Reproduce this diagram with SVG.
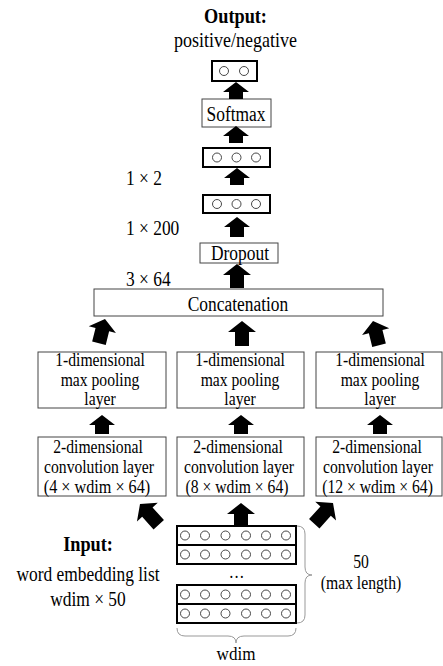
<svg xmlns="http://www.w3.org/2000/svg" width="443" height="666" viewBox="0 0 443 666">
<style>
text{font-family:"Liberation Serif","Times New Roman",serif;fill:#000;text-anchor:middle}
.s{text-anchor:start}
.t20{font-size:20px}
.t18{font-size:18px}
.b{font-size:21px;font-weight:bold}
.box{fill:#fff;stroke:#444;stroke-width:1}
.vec{fill:#fff;stroke:#000;stroke-width:2}
.c{fill:#fff;stroke:#333;stroke-width:0.9}
.arr{fill:#000;stroke:none}
.brace{fill:none;stroke:#999;stroke-width:1}
</style>
<rect width="443" height="666" fill="#fff"/>

<g id="title">
<text class="b" transform="translate(235.5,23) scale(0.87,1)">Output:</text>
<text class="t20" transform="translate(235.5,47) scale(0.9,1)">positive/negative</text>
</g>

<g id="out-vec">
<rect class="vec" x="212" y="61" width="45" height="20"/>
<circle class="c" cx="224" cy="71" r="4.5"/>
<circle class="c" cx="244" cy="71" r="4.5"/>
</g>

<g id="softmax">
<rect class="box" x="202" y="99" width="69" height="28"/>
<text class="t20" transform="translate(236,121) scale(0.87,1)">Softmax</text>
</g>

<g id="vec2">
<rect class="vec" x="203" y="148" width="67" height="19"/>
<circle class="c" cx="217" cy="157.5" r="4.5"/>
<circle class="c" cx="236.5" cy="157.5" r="4.5"/>
<circle class="c" cx="256" cy="157.5" r="4.5"/>
</g>

<g id="vec200">
<rect class="vec" x="203" y="195" width="67" height="18"/>
<circle class="c" cx="217" cy="204" r="4.5"/>
<circle class="c" cx="236.5" cy="204" r="4.5"/>
<circle class="c" cx="256" cy="204" r="4.5"/>
</g>

<g id="dims">
<text class="t20 s" transform="translate(126,185) scale(0.87,1)">1 × 2</text>
<text class="t20 s" transform="translate(126,235) scale(0.87,1)">1 × 200</text>
<text class="t20 s" transform="translate(126,286) scale(0.87,1)">3 × 64</text>
</g>

<g id="dropout">
<rect class="box" x="200" y="243" width="78" height="20"/>
<text class="t20" transform="translate(240,260) scale(0.87,1)">Dropout</text>
</g>

<g id="concat">
<rect class="box" x="94" y="289" width="289" height="27"/>
<text class="t20" transform="translate(238,311) scale(0.87,1)">Concatenation</text>
</g>

<g id="pool1">
<rect class="box" x="38" y="352" width="128" height="56"/>
<text class="t18" transform="translate(100,366) scale(0.87,1)">1-dimensional</text>
<text class="t18" transform="translate(100,386) scale(0.87,1)">max pooling</text>
<text class="t18" transform="translate(100,405) scale(0.87,1)">layer</text>
</g>
<g id="pool2">
<rect class="box" x="177" y="352" width="127" height="56"/>
<text class="t18" transform="translate(240,366) scale(0.87,1)">1-dimensional</text>
<text class="t18" transform="translate(240,386) scale(0.87,1)">max pooling</text>
<text class="t18" transform="translate(240,405) scale(0.87,1)">layer</text>
</g>
<g id="pool3">
<rect class="box" x="316" y="352" width="126" height="56"/>
<text class="t18" transform="translate(380,366) scale(0.87,1)">1-dimensional</text>
<text class="t18" transform="translate(380,386) scale(0.87,1)">max pooling</text>
<text class="t18" transform="translate(380,405) scale(0.87,1)">layer</text>
</g>

<g id="conv1">
<rect class="box" x="38" y="437" width="128" height="59"/>
<text class="t18" transform="translate(98,453) scale(0.87,1)">2-dimensional</text>
<text class="t18" transform="translate(99,473) scale(0.87,1)">convolution layer</text>
<text class="t18" transform="translate(97,493) scale(0.9,1)">(4 × wdim × 64)</text>
</g>
<g id="conv2">
<rect class="box" x="177" y="437" width="127" height="59"/>
<text class="t18" transform="translate(238,453) scale(0.87,1)">2-dimensional</text>
<text class="t18" transform="translate(239,473) scale(0.87,1)">convolution layer</text>
<text class="t18" transform="translate(237,493) scale(0.87,1)">(8 × wdim × 64)</text>
</g>
<g id="conv3">
<rect class="box" x="316" y="437" width="126" height="59"/>
<text class="t18" transform="translate(377,453) scale(0.87,1)">2-dimensional</text>
<text class="t18" transform="translate(378,473) scale(0.87,1)">convolution layer</text>
<text class="t18" transform="translate(377.5,493) scale(0.87,1)">(12 × wdim × 64)</text>
</g>

<g id="input-label">
<text class="b" transform="translate(88,551) scale(0.87,1)">Input:</text>
<text class="t20" transform="translate(88,581) scale(0.87,1)">word embedding list</text>
<text class="t20" transform="translate(88,606) scale(0.87,1)">wdim × 50</text>
</g>

<g id="embedding">
<rect class="vec" x="177" y="526" width="119" height="19"/>
<rect class="vec" x="177" y="545" width="119" height="19"/>
<rect class="vec" x="177" y="585" width="119" height="19"/>
<rect class="vec" x="177" y="604" width="119" height="19"/>
<g>
<circle class="c" cx="185" cy="535.5" r="4.5"/><circle class="c" cx="205" cy="535.5" r="4.5"/><circle class="c" cx="225.5" cy="535.5" r="4.5"/><circle class="c" cx="246" cy="535.5" r="4.5"/><circle class="c" cx="266" cy="535.5" r="4.5"/><circle class="c" cx="286" cy="535.5" r="4.5"/>
<circle class="c" cx="185" cy="554.5" r="4.5"/><circle class="c" cx="205" cy="554.5" r="4.5"/><circle class="c" cx="225.5" cy="554.5" r="4.5"/><circle class="c" cx="246" cy="554.5" r="4.5"/><circle class="c" cx="266" cy="554.5" r="4.5"/><circle class="c" cx="286" cy="554.5" r="4.5"/>
<circle class="c" cx="185" cy="594.5" r="4.5"/><circle class="c" cx="205" cy="594.5" r="4.5"/><circle class="c" cx="225.5" cy="594.5" r="4.5"/><circle class="c" cx="246" cy="594.5" r="4.5"/><circle class="c" cx="266" cy="594.5" r="4.5"/><circle class="c" cx="286" cy="594.5" r="4.5"/>
<circle class="c" cx="185" cy="613.5" r="4.5"/><circle class="c" cx="205" cy="613.5" r="4.5"/><circle class="c" cx="225.5" cy="613.5" r="4.5"/><circle class="c" cx="246" cy="613.5" r="4.5"/><circle class="c" cx="266" cy="613.5" r="4.5"/><circle class="c" cx="286" cy="613.5" r="4.5"/>
</g>
<text class="t18" transform="translate(236.5,578) scale(0.87,1)">…</text>
</g>

<g id="braces">
<path class="brace" d="M297,526 Q305,526 305,534 L305,567 Q305,575 312,575 Q305,575 305,583 L305,615 Q305,623 297,623"/>
<path class="brace" d="M177,628 Q177,636 185,636 L228,636 Q236,636 236,643 Q236,636 244,636 L288,636 Q296,636 296,628"/>
<text class="t18" transform="translate(361,568) scale(0.87,1)">50</text>
<text class="t18" transform="translate(361,589) scale(0.87,1)">(max length)</text>
<text class="t18" transform="translate(236,660) scale(0.95,1)">wdim</text>
</g>

<g id="connectors">
<path class="arr" d="M0,0 L13,10 L7,10 L7,17 L-7,17 L-7,10 L-13,10 Z" transform="translate(236,82)"/>
<path class="arr" d="M0,0 L13,10 L7,10 L7,17 L-7,17 L-7,10 L-13,10 Z" transform="translate(236,126)"/>
<path class="arr" d="M0,0 L13,10 L7,10 L7,17 L-7,17 L-7,10 L-13,10 Z" transform="translate(237,168)"/>
<path class="arr" d="M0,0 L13,10 L7,10 L7,20 L-7,20 L-7,10 L-13,10 Z" transform="translate(237,217)"/>
<path class="arr" d="M0,0 L14,11 L7,11 L7,24 L-7,24 L-7,11 L-14,11 Z" transform="translate(237,264)"/>
<path class="arr" d="M0,0 L14,11 L7,11 L7,25 L-7,25 L-7,11 L-14,11 Z" transform="translate(105,319) rotate(14)"/>
<path class="arr" d="M0,0 L14,11 L7,11 L7,25 L-7,25 L-7,11 L-14,11 Z" transform="translate(242,321)"/>
<path class="arr" d="M0,0 L14,11 L7,11 L7,25 L-7,25 L-7,11 L-14,11 Z" transform="translate(373,321) rotate(-14)"/>
<path class="arr" d="M0,0 L13,10 L7,10 L7,19 L-7,19 L-7,10 L-13,10 Z" transform="translate(102,415)"/>
<path class="arr" d="M0,0 L13,10 L7,10 L7,19 L-7,19 L-7,10 L-13,10 Z" transform="translate(241,415)"/>
<path class="arr" d="M0,0 L13,10 L7,10 L7,19 L-7,19 L-7,10 L-13,10 Z" transform="translate(380,415)"/>
<path class="arr" d="M0,0 L14,11 L7,11 L7,28 L-7,28 L-7,11 L-14,11 Z" transform="translate(140,504) rotate(-42)"/>
<path class="arr" d="M0,0 L14,11 L7,11 L7,24 L-7,24 L-7,11 L-14,11 Z" transform="translate(241,503)"/>
<path class="arr" d="M0,0 L14,11 L7,11 L7,28 L-7,28 L-7,11 L-14,11 Z" transform="translate(333,503) rotate(42)"/>
</g>
</svg>
